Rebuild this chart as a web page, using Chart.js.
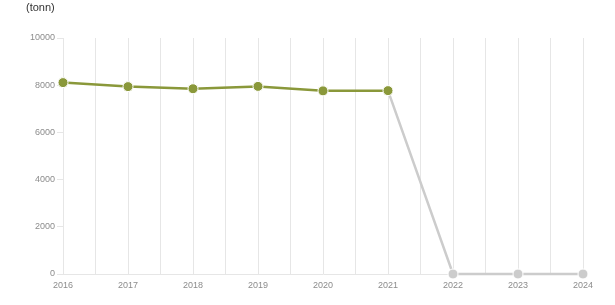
<!DOCTYPE html>
<html>
<head>
<meta charset="utf-8">
<script src="https://cdn.jsdelivr.net/npm/chart.js@4/dist/chart.umd.min.js"></script>
<style>
  html, body { margin: 0; padding: 0; background: #fff; }
  #wrap { position: relative; width: 615px; height: 305px; }
  #unit { position: absolute; left: 26px; top: 1px; font: 11px "Liberation Sans", Arial, sans-serif; color: #333; }
  canvas { position: absolute; left: 0; top: 0; }
</style>
</head>
<body>
<div id="wrap">
  <canvas id="c" width="615" height="305"></canvas>
  <div id="unit">(tonn)</div>
</div>
<script>
const years = [2016, 2017, 2018, 2019, 2020, 2021, 2022, 2023, 2024];
const actualValues = [8110, 7940, 7850, 7950, 7760, 7770, null, null, null];
const projectedValues = [null, null, null, null, null, 7770, 0, 0, 0];
const yTicks = [0, 2000, 4000, 6000, 8000, 10000];

const toPoints = arr => years.map((y, i) => ({ x: y, y: arr[i] }));

new Chart(document.getElementById('c'), {
  type: 'line',
  data: {
    datasets: [
      {
        data: toPoints(actualValues),
        borderColor: '#8a983a',
        backgroundColor: '#8a983a',
        borderWidth: 2.5,
        pointRadius: 5,
        pointHoverRadius: 5,
        pointBorderColor: '#ffffff',
        pointBorderWidth: 1,
        pointBackgroundColor: '#8a983a',
        spanGaps: false,
        clip: false,
        order: 1
      },
      {
        data: toPoints(projectedValues),
        borderColor: '#cccccc',
        backgroundColor: '#cccccc',
        borderWidth: 2.5,
        pointRadius: ctx => ctx.dataIndex === 5 ? 0 : 5,
        pointBorderColor: '#ffffff',
        pointBorderWidth: 1,
        pointBackgroundColor: '#cccccc',
        clip: false,
        order: 2
      }
    ]
  },
  options: {
    responsive: false,
    animation: false,
    layout: { padding: { left: 0, right: 32, top: 38, bottom: 0 } },
    plugins: { legend: { display: false }, tooltip: { enabled: false } },
    scales: {
      x: {
        type: 'linear',
        min: 2016,
        max: 2024,
        afterBuildTicks: s => {
          const t = [];
          for (let v = 2016; v <= 2024; v += 0.5) t.push({ value: v });
          s.ticks = t;
        },
        afterFit: s => { s.height = 31; },
        grid: { color: '#e6e6e6', lineWidth: 1, drawTicks: false },
        border: { color: '#e6e6e6' },
        ticks: {
          autoSkip: false,
          maxRotation: 0,
          padding: 6,
          color: '#8c8c8c',
          font: { family: '"Liberation Sans", Arial, sans-serif', size: 9 },
          callback: v => Number.isInteger(v) ? String(v) : ''
        }
      },
      y: {
        min: 0,
        max: 10000,
        afterBuildTicks: s => { s.ticks = yTicks.map(v => ({ value: v })); },
        afterFit: s => { s.width = 63; },
        grid: { drawOnChartArea: false, drawTicks: true, tickLength: 6, color: '#e6e6e6' },
        border: { color: '#e6e6e6' },
        ticks: {
          padding: 2,
          color: '#8c8c8c',
          font: { family: '"Liberation Sans", Arial, sans-serif', size: 9 },
          callback: v => String(v)
        }
      }
    }
  }
});
</script>
</body>
</html>
